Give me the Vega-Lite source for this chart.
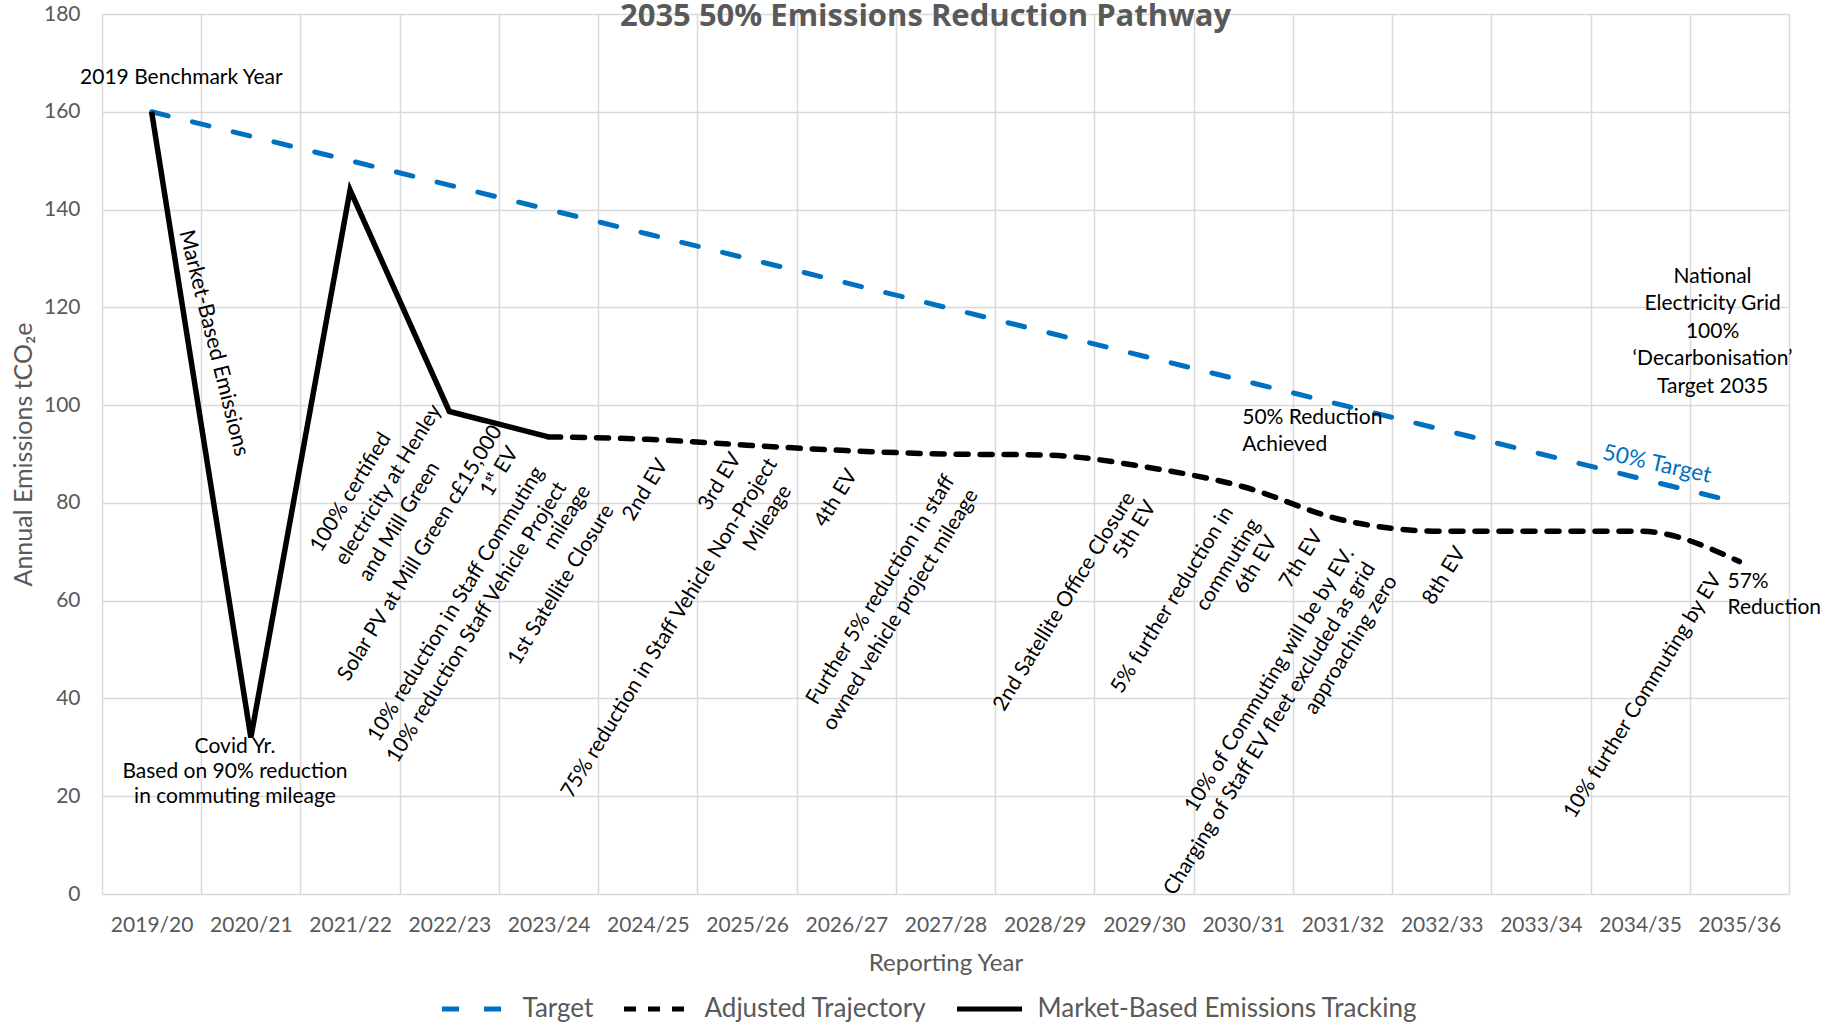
{
  "$schema": "https://vega.github.io/schema/vega-lite/v6.json",
  "width": 1687,
  "height": 880,
  "autosize": {"type": "none"},
  "padding": {"left": 102, "top": 14, "right": 47, "bottom": 134},
  "background": "white",
  "config": {
    "font": "Lato",
    "view": {"stroke": null}
  },
  "title": {
    "text": "2035 50% Emissions Reduction Pathway",
    "font": "Open Sans",
    "fontSize": 31,
    "fontWeight": "bold",
    "color": "#595959",
    "anchor": "middle",
    "frame": "group",
    "dx": -20,
    "baseline": "top",
    "offset": -29.5
  },
  "datasets": {
    "series": [
      {"series": "Target", "year": 2019, "value": 160},
      {"series": "Target", "year": 2020, "value": 155},
      {"series": "Target", "year": 2021, "value": 150},
      {"series": "Target", "year": 2022, "value": 145},
      {"series": "Target", "year": 2023, "value": 140},
      {"series": "Target", "year": 2024, "value": 135},
      {"series": "Target", "year": 2025, "value": 130},
      {"series": "Target", "year": 2026, "value": 125},
      {"series": "Target", "year": 2027, "value": 120},
      {"series": "Target", "year": 2028, "value": 115},
      {"series": "Target", "year": 2029, "value": 110},
      {"series": "Target", "year": 2030, "value": 105},
      {"series": "Target", "year": 2031, "value": 100},
      {"series": "Target", "year": 2032, "value": 95},
      {"series": "Target", "year": 2033, "value": 90},
      {"series": "Target", "year": 2034, "value": 85},
      {"series": "Target", "year": 2035, "value": 80},
      {"series": "Adjusted Trajectory", "year": 2023, "value": 93.5},
      {"series": "Adjusted Trajectory", "year": 2024, "value": 93.0},
      {"series": "Adjusted Trajectory", "year": 2025, "value": 91.8},
      {"series": "Adjusted Trajectory", "year": 2026, "value": 90.7},
      {"series": "Adjusted Trajectory", "year": 2027, "value": 90.0},
      {"series": "Adjusted Trajectory", "year": 2028, "value": 89.8},
      {"series": "Adjusted Trajectory", "year": 2029, "value": 87.4},
      {"series": "Adjusted Trajectory", "year": 2030, "value": 83.3},
      {"series": "Adjusted Trajectory", "year": 2031, "value": 76.5},
      {"series": "Adjusted Trajectory", "year": 2032, "value": 74.2},
      {"series": "Adjusted Trajectory", "year": 2033, "value": 74.2},
      {"series": "Adjusted Trajectory", "year": 2034, "value": 74.2},
      {"series": "Adjusted Trajectory", "year": 2035, "value": 68.0},
      {"series": "Market-Based Emissions Tracking", "year": 2019, "value": 160},
      {"series": "Market-Based Emissions Tracking", "year": 2020, "value": 32},
      {"series": "Market-Based Emissions Tracking", "year": 2021, "value": 144},
      {"series": "Market-Based Emissions Tracking", "year": 2022, "value": 98.7},
      {"series": "Market-Based Emissions Tracking", "year": 2023, "value": 93.5}
    ],
    "notes": [
      {"kind": "center", "year": 2019.30, "value": 166.9, "text": "2019 Benchmark Year"},
      {"kind": "center", "year": 2019.84, "value": 30.13, "text": "Covid Yr.\nBased on 90% reduction\nin commuting mileage"},
      {"kind": "national", "year": 2034.73, "value": 126.27, "text": "National\nElectricity Grid\n100%\n‘Decarbonisation’\nTarget 2035"},
      {"kind": "left", "year": 2029.99, "value": 97.3, "text": "50% Reduction\nAchieved"},
      {"kind": "left", "year": 2034.88, "value": 63.88, "text": "57%\nReduction"},
      {"kind": "vert", "year": 2019.63, "value": 112.7, "text": "Market-Based Emissions"},
      {"kind": "target", "year": 2034.17, "value": 87.95, "text": "50% Target"},
      {"kind": "diag", "year": 2021.01, "value": 82.12, "text": "100% certified"},
      {"kind": "diag", "year": 2021.39, "value": 83.66, "text": "electricity at Henley"},
      {"kind": "diag", "year": 2021.50, "value": 76.15, "text": "and Mill Green"},
      {"kind": "diag", "year": 2021.71, "value": 69.69, "text": "Solar PV at Mill Green c£15,000"},
      {"kind": "diag", "year": 2022.51, "value": 86.38, "text": "1ˢᵗ EV"},
      {"kind": "diag", "year": 2022.07, "value": 59.28, "text": "10% reduction in  Staff Commuting"},
      {"kind": "diag", "year": 2022.28, "value": 55.53, "text": "10% reduction  Staff Vehicle Project"},
      {"kind": "diag", "year": 2023.19, "value": 77.01, "text": "mileage"},
      {"kind": "diag", "year": 2023.13, "value": 63.20, "text": "1st Satellite Closure"},
      {"kind": "diag", "year": 2023.98, "value": 82.63, "text": "2nd EV"},
      {"kind": "diag", "year": 2024.73, "value": 84.33, "text": "3rd EV"},
      {"kind": "diag", "year": 2024.22, "value": 54.35, "text": "75% reduction in Staff Vehicle Non-Project"},
      {"kind": "diag", "year": 2025.21, "value": 76.85, "text": "Mileage"},
      {"kind": "diag", "year": 2025.90, "value": 80.94, "text": "4th EV"},
      {"kind": "diag", "year": 2026.35, "value": 62.18, "text": "Further 5% reduction in staff"},
      {"kind": "diag", "year": 2026.55, "value": 58.09, "text": "owned vehicle project mileage"},
      {"kind": "diag", "year": 2028.20, "value": 59.79, "text": "2nd Satellite Office Closure"},
      {"kind": "diag", "year": 2028.91, "value": 74.45, "text": "5th EV"},
      {"kind": "diag", "year": 2029.29, "value": 60.13, "text": "5% further reduction in"},
      {"kind": "diag", "year": 2029.85, "value": 67.29, "text": "commuting"},
      {"kind": "diag", "year": 2030.13, "value": 67.29, "text": "6th EV"},
      {"kind": "diag", "year": 2030.59, "value": 68.48, "text": "7th EV"},
      {"kind": "diag", "year": 2030.27, "value": 43.77, "text": "10% of Commuting will be by EV."},
      {"kind": "diag", "year": 2030.27, "value": 33.75, "text": "Charging of Staff EV fleet excluded as grid"},
      {"kind": "diag", "year": 2031.09, "value": 50.93, "text": "approaching zero"},
      {"kind": "diag", "year": 2032.03, "value": 65.08, "text": "8th EV"},
      {"kind": "diag", "year": 2034.03, "value": 40.50, "text": "10% further Commuting by EV"}
    ]
  },
  "encoding": {
    "x": {
      "field": "year",
      "type": "quantitative",
      "scale": {"domain": [2018.5, 2035.5], "nice": false, "zero": false},
      "axis": {
        "values": [2018.5, 2019, 2019.5, 2020, 2020.5, 2021, 2021.5, 2022, 2022.5, 2023, 2023.5, 2024, 2024.5, 2025, 2025.5, 2026, 2026.5, 2027, 2027.5, 2028, 2028.5, 2029, 2029.5, 2030, 2030.5, 2031, 2031.5, 2032, 2032.5, 2033, 2033.5, 2034, 2034.5, 2035, 2035.5],
        "labelExpr": "datum.value % 1 === 0 ? datum.value + '/' + (datum.value - 1999) : ''",
        "grid": true,
        "gridColor": "#D9D9D9",
        "gridWidth": 1.5,
        "gridOpacity": {"condition": {"test": "datum.value % 1 !== 0", "value": 1}, "value": 0},
        "ticks": false,
        "tickSize": 0,
        "domain": false,
        "labelFont": "Lato",
        "labelFontSize": 21,
        "labelColor": "#595959",
        "labelPadding": 20,
        "labelOverlap": false,
        "labelFlush": false,
        "title": "Reporting Year",
        "titleFont": "Lato",
        "titleFontSize": 24,
        "titleFontWeight": "normal",
        "titleColor": "#595959",
        "titlePadding": 16
      }
    },
    "y": {
      "field": "value",
      "type": "quantitative",
      "scale": {"domain": [0, 180], "nice": false},
      "axis": {
        "values": [0, 20, 40, 60, 80, 100, 120, 140, 160, 180],
        "grid": true,
        "gridColor": "#D9D9D9",
        "gridWidth": 1.5,
        "ticks": false,
        "tickSize": 0,
        "domain": false,
        "labelFont": "Lato",
        "labelFontSize": 21,
        "labelColor": "#595959",
        "labelPadding": 22,
        "title": "Annual Emissions tCO₂e",
        "titleFont": "Lato",
        "titleFontSize": 25,
        "titleFontWeight": "normal",
        "titleColor": "#595959",
        "titlePadding": 7
      }
    }
  },
  "layer": [
    {
      "data": {"name": "series"},
      "transform": [{"filter": "datum.series === 'Target'"}],
      "mark": {"type": "line", "strokeWidth": 5, "strokeCap": "round"},
      "encoding": {
        "color": {
          "field": "series",
          "type": "nominal",
          "scale": {"domain": ["Target", "Adjusted Trajectory", "Market-Based Emissions Tracking"], "range": ["#0070C0", "#000000", "#000000"]},
          "legend": {
            "orient": "none",
            "legendX": 337.5,
            "legendY": 960,
            "direction": "horizontal",
            "title": null,
            "symbolType": "stroke",
            "symbolSize": 4225,
            "symbolStrokeWidth": 5,
            "labelFont": "Lato",
            "labelFontSize": 26,
            "labelColor": "#595959",
            "labelLimit": 600,
            "labelOffset": 13,
            "columnPadding": 20
          }
        },
        "strokeDash": {
          "field": "series",
          "type": "nominal",
          "scale": {"domain": ["Target", "Adjusted Trajectory", "Market-Based Emissions Tracking"], "range": [[17, 25], [12, 12], [1, 0]]},
          "legend": {
            "orient": "none",
            "legendX": 337.5,
            "legendY": 960,
            "direction": "horizontal",
            "title": null
          }
        }
      }
    },
    {
      "data": {"name": "series"},
      "transform": [{"filter": "datum.series === 'Adjusted Trajectory'"}],
      "mark": {"type": "line", "strokeWidth": 5.5, "strokeCap": "round", "interpolate": "monotone"},
      "encoding": {
        "color": {"field": "series", "type": "nominal"},
        "strokeDash": {"field": "series", "type": "nominal"}
      }
    },
    {
      "data": {"name": "series"},
      "transform": [{"filter": "datum.series === 'Market-Based Emissions Tracking'"}],
      "mark": {"type": "line", "strokeWidth": 5.5, "strokeJoin": "miter"},
      "encoding": {
        "color": {"field": "series", "type": "nominal"},
        "strokeDash": {"field": "series", "type": "nominal"}
      }
    },
    {
      "data": {"name": "notes"},
      "transform": [{"filter": "datum.kind === 'diag'"}],
      "mark": {"type": "text", "angle": -58.5, "align": "center", "baseline": "middle", "font": "Lato", "fontSize": 21, "color": "#000000"},
      "encoding": {"text": {"field": "text", "type": "nominal"}}
    },
    {
      "data": {"name": "notes"},
      "transform": [{"filter": "datum.kind === 'vert'"}],
      "mark": {"type": "text", "angle": 76, "align": "center", "baseline": "middle", "font": "Lato", "fontSize": 21.7, "color": "#000000"},
      "encoding": {"text": {"field": "text", "type": "nominal"}}
    },
    {
      "data": {"name": "notes"},
      "transform": [{"filter": "datum.kind === 'center'"}],
      "mark": {"type": "text", "align": "center", "baseline": "middle", "lineBreak": "\n", "lineHeight": 25, "font": "Lato", "fontSize": 21, "color": "#000000"},
      "encoding": {"text": {"field": "text", "type": "nominal"}}
    },
    {
      "data": {"name": "notes"},
      "transform": [{"filter": "datum.kind === 'national'"}],
      "mark": {"type": "text", "align": "center", "baseline": "middle", "lineBreak": "\n", "lineHeight": 27.5, "font": "Lato", "fontSize": 21, "color": "#000000"},
      "encoding": {"text": {"field": "text", "type": "nominal"}}
    },
    {
      "data": {"name": "notes"},
      "transform": [{"filter": "datum.kind === 'left'"}],
      "mark": {"type": "text", "align": "left", "baseline": "middle", "lineBreak": "\n", "lineHeight": 26.6, "font": "Lato", "fontSize": 21, "color": "#000000"},
      "encoding": {"text": {"field": "text", "type": "nominal"}}
    },
    {
      "data": {"name": "notes"},
      "transform": [{"filter": "datum.kind === 'target'"}],
      "mark": {"type": "text", "angle": 12.5, "align": "center", "baseline": "middle", "font": "Lato", "fontSize": 22.5, "color": "#0070C0"},
      "encoding": {"text": {"field": "text", "type": "nominal"}}
    }
  ]
}
